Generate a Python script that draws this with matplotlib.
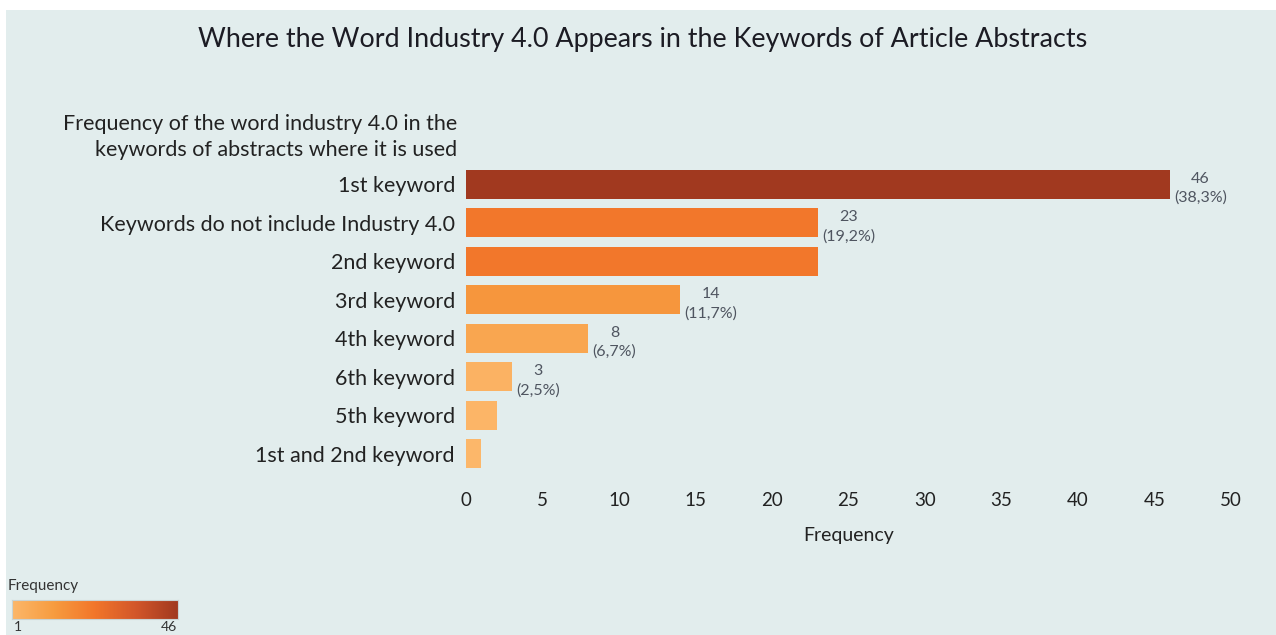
import matplotlib
matplotlib.use("Agg")
import matplotlib.pyplot as plt
from matplotlib.colors import LinearSegmentedColormap, Normalize
import numpy as np

# Data
categories = ["1st keyword", "Keywords do not include Industry 4.0", "2nd keyword",
              "3rd keyword", "4th keyword", "6th keyword", "5th keyword",
              "1st and 2nd keyword"]
counts = [46, 23, 23, 14, 8, 3, 2, 1]
shown_labels = [True, True, False, True, True, True, False, False]
x_ticks = [0, 5, 10, 15, 20, 25, 30, 35, 40, 45, 50]

title = "Where the Word Industry 4.0 Appears in the Keywords of Article Abstracts"
row_header = "Frequency of the word industry 4.0 in the\nkeywords of abstracts where it is used"

bg = "#e2eded"
plt.rcParams['font.family'] = ['Lato', 'DejaVu Sans']

cmap = LinearSegmentedColormap.from_list(
    "tab_orange", ["#fcb76a", "#f79c40", "#f2762a", "#d2562a", "#a1391f"])
norm = Normalize(vmin=1, vmax=46)

W, H = 1276, 635
fig = plt.figure(figsize=(W / 100, H / 100), dpi=100)
fig.patch.set_facecolor("white")
# chart background panel (white strip at top and left)
fig.patches.append(plt.Rectangle((6 / W, 0), 1 - 6 / W, 1 - 10 / H,
                                 transform=fig.transFigure, facecolor=bg,
                                 edgecolor="none", zorder=-10))

ax = fig.add_axes([466 / W, 1 - 473 / H, (1231 - 466) / W, (473 - 165) / H])
ax.set_facecolor("none")

total = sum(counts)
y = np.arange(len(categories))
ax.barh(y, counts, height=0.76, color=[cmap(norm(c)) for c in counts])

for yi, c, show in zip(y, counts, shown_labels):
    if not show:
        continue
    ax.annotate(f"{c}\n({c / total * 100:.1f}%)".replace(".", ","),
                xy=(c, yi), xytext=(3, -3), textcoords="offset points",
                ha="left", va="center", multialignment="center",
                fontsize=11.5, color="#4f5560", linespacing=1.4)

ax.set_xlim(0, 50)
ax.set_ylim(len(categories) - 0.5, -0.5)
ax.set_xticks(x_ticks)
ax.set_yticks(y)
ax.set_yticklabels(categories, fontsize=15.5, color="#222222")
ax.tick_params(axis="x", labelsize=13.5, labelcolor="#222222", length=0, pad=14)
ax.tick_params(axis="y", length=0, pad=8)
for s in ax.spines.values():
    s.set_visible(False)
ax.set_xlabel("Frequency", fontsize=14, color="#222222", labelpad=13)

fig.text(457 / W, 1 - 137 / H, row_header, ha="right", va="center",
         fontsize=15.5, color="#222222", linespacing=1.4)

fig.text(643 / W, 1 - 39 / H, title, ha="center", va="center",
         fontsize=19.4, color="#1c1c24")

# colour legend
fig.text(8 / W, 1 - 586 / H, "Frequency", ha="left", va="center",
         fontsize=11, color="#333333")
cax = fig.add_axes([12 / W, 1 - 619 / H, 166 / W, 19 / H])
cax.imshow(np.linspace(0, 1, 256)[None, :], aspect="auto", cmap=cmap,
           extent=[0, 1, 0, 1])
cax.set_xticks([])
cax.set_yticks([])
for s in cax.spines.values():
    s.set_edgecolor("#c9d3d3")
fig.text(14 / W, 1 - 627 / H, "1", ha="left", va="center", fontsize=10, color="#333333")
fig.text(177 / W, 1 - 627 / H, "46", ha="right", va="center", fontsize=10, color="#333333")

fig.savefig("out.png", dpi=100, facecolor=fig.get_facecolor())
